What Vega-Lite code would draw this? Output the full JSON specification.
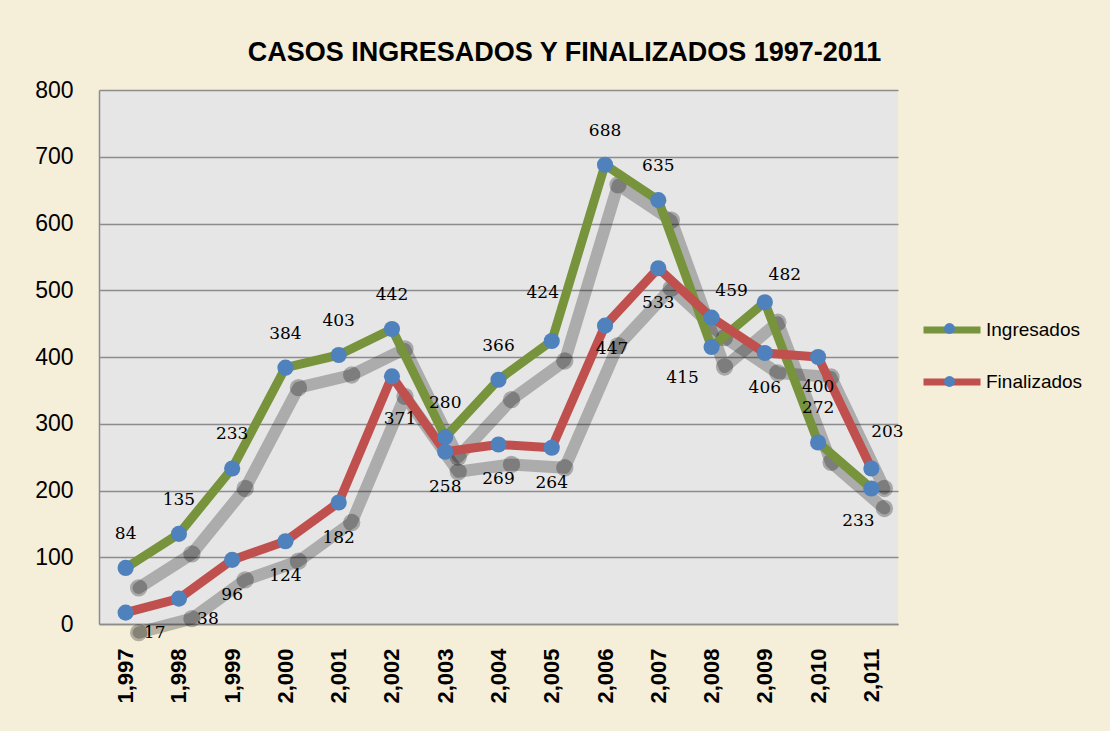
{
  "$schema": "https://vega.github.io/schema/vega-lite/v6.json",
  "width": 799,
  "height": 534,
  "autosize": {"type": "none"},
  "padding": {"left": 99, "top": 90, "right": 212, "bottom": 107},
  "background": "#f5eed8",
  "title": {
    "text": "CASOS INGRESADOS Y FINALIZADOS 1997-2011",
    "font": "Liberation Sans",
    "fontSize": 27,
    "fontWeight": "bold",
    "color": "#000000",
    "anchor": "middle",
    "frame": "group",
    "dx": 66,
    "offset": 12
  },
  "config": {
    "view": {"fill": "#e6e6e6", "stroke": null},
    "axis": {"labelFont": "Liberation Sans", "labelColor": "#000000", "ticks": false, "tickSize": 0, "domainColor": "#8c8c8c", "domainWidth": 1.5, "title": null}
  },
  "data": {
    "values": [
      {"year": 1997, "series": "Ingresados", "value": 84},
      {"year": 1998, "series": "Ingresados", "value": 135},
      {"year": 1999, "series": "Ingresados", "value": 233},
      {"year": 2000, "series": "Ingresados", "value": 384},
      {"year": 2001, "series": "Ingresados", "value": 403},
      {"year": 2002, "series": "Ingresados", "value": 442},
      {"year": 2003, "series": "Ingresados", "value": 280},
      {"year": 2004, "series": "Ingresados", "value": 366},
      {"year": 2005, "series": "Ingresados", "value": 424},
      {"year": 2006, "series": "Ingresados", "value": 688},
      {"year": 2007, "series": "Ingresados", "value": 635},
      {"year": 2008, "series": "Ingresados", "value": 415},
      {"year": 2009, "series": "Ingresados", "value": 482},
      {"year": 2010, "series": "Ingresados", "value": 272},
      {"year": 2011, "series": "Ingresados", "value": 203},
      {"year": 1997, "series": "Finalizados", "value": 17},
      {"year": 1998, "series": "Finalizados", "value": 38},
      {"year": 1999, "series": "Finalizados", "value": 96},
      {"year": 2000, "series": "Finalizados", "value": 124},
      {"year": 2001, "series": "Finalizados", "value": 182},
      {"year": 2002, "series": "Finalizados", "value": 371},
      {"year": 2003, "series": "Finalizados", "value": 258},
      {"year": 2004, "series": "Finalizados", "value": 269},
      {"year": 2005, "series": "Finalizados", "value": 264},
      {"year": 2006, "series": "Finalizados", "value": 447},
      {"year": 2007, "series": "Finalizados", "value": 533},
      {"year": 2008, "series": "Finalizados", "value": 459},
      {"year": 2009, "series": "Finalizados", "value": 406},
      {"year": 2010, "series": "Finalizados", "value": 400},
      {"year": 2011, "series": "Finalizados", "value": 233}
    ]
  },
  "encoding": {
    "x": {
      "field": "year", "type": "quantitative",
      "scale": {"domain": [1996.5, 2011.5], "nice": false, "zero": false},
      "axis": {"values": [1997,1998,1999,2000,2001,2002,2003,2004,2005,2006,2007,2008,2009,2010,2011], "format": ",", "labelAngle": -90, "grid": false, "labelFontSize": 22, "labelFontWeight": "bold", "labelPadding": 24}
    },
    "y": {
      "field": "value", "type": "quantitative",
      "scale": {"domain": [0, 800], "nice": false},
      "axis": {"values": [0,100,200,300,400,500,600,700,800], "grid": true, "gridColor": "#8c8c8c", "gridWidth": 1.5, "labelFontSize": 23, "labelPadding": 26}
    }
  },
  "layer": [
    {
      "mark": {"type": "line", "stroke": "#000000", "opacity": 0.25, "strokeWidth": 12, "xOffset": 13, "yOffset": 20, "strokeCap": "round", "strokeJoin": "round"},
      "encoding": {"detail": {"field": "series"}}
    },
    {
      "mark": {"type": "circle", "fill": "#000000", "opacity": 0.27, "size": 300, "xOffset": 13, "yOffset": 20}
    },
    {
      "mark": {"type": "line", "strokeWidth": 9, "strokeJoin": "round"},
      "encoding": {
        "stroke": {
          "field": "series", "type": "nominal",
          "scale": {"domain": ["Ingresados", "Finalizados"], "range": ["#77933c", "#c0504d"]},
          "legend": {"orient": "none", "legendX": 821, "legendY": 208, "title": null, "symbolType": "stroke", "symbolSize": 3249, "symbolStrokeWidth": 7, "labelFont": "Liberation Sans", "labelFontSize": 19, "labelColor": "#000000", "rowPadding": 6, "padding": 0, "labelOffset": 2}
        }
      }
    },
    {
      "mark": {"type": "circle", "size": 260, "opacity": 1},
      "encoding": {
        "fill": {
          "field": "series", "type": "nominal",
          "scale": {"domain": ["Finalizados", "Ingresados"], "range": ["#4f81bd", "#4f81bd"]},
          "legend": {"orient": "none", "legendX": 845, "legendY": 233, "title": null, "symbolType": "circle", "symbolSize": 120, "symbolStrokeWidth": 0, "labelExpr": "''", "labelFontSize": 1, "labelOffset": 0, "rowPadding": 42, "padding": 0}
        }
      }
    },
    {
      "transform": [{"filter": "datum.series == 'Ingresados' && indexof([2005, 2008, 2009, 2011], datum.year) < 0"}],
      "mark": {"type": "text", "font": "DejaVu Serif", "fontSize": 17, "color": "#000000", "dy": -34},
      "encoding": {"text": {"field": "value", "type": "quantitative"}}
    },
    {
      "transform": [{"filter": "datum.series == 'Finalizados' && indexof([1999, 2000, 2001, 2003, 2004, 2005, 2007, 2009], datum.year) >= 0"}],
      "mark": {"type": "text", "font": "DejaVu Serif", "fontSize": 17, "color": "#000000", "dy": 35},
      "encoding": {"text": {"field": "value", "type": "quantitative"}}
    },
    {
      "transform": [{"filter": "datum.series == 'Finalizados' && datum.year == 2010"}],
      "mark": {"type": "text", "font": "DejaVu Serif", "fontSize": 17, "color": "#000000", "dy": 30},
      "encoding": {"text": {"field": "value", "type": "quantitative"}}
    },
    {
      "transform": [{"filter": "datum.series == 'Finalizados' && indexof([1997, 1998], datum.year) >= 0"}],
      "mark": {"type": "text", "font": "DejaVu Serif", "fontSize": 17, "color": "#000000", "dx": 29, "dy": 20},
      "encoding": {"text": {"field": "value", "type": "quantitative"}}
    },
    {
      "transform": [{"filter": "datum.series == 'Finalizados' && datum.year == 2002"}],
      "mark": {"type": "text", "font": "DejaVu Serif", "fontSize": 17, "color": "#000000", "dx": 8, "dy": 43},
      "encoding": {"text": {"field": "value", "type": "quantitative"}}
    },
    {
      "transform": [{"filter": "datum.series == 'Finalizados' && datum.year == 2006"}],
      "mark": {"type": "text", "font": "DejaVu Serif", "fontSize": 17, "color": "#000000", "dx": 7, "dy": 23},
      "encoding": {"text": {"field": "value", "type": "quantitative"}}
    },
    {
      "transform": [{"filter": "(datum.series == 'Finalizados' && datum.year == 2008) || (datum.series == 'Ingresados' && datum.year == 2009)"}],
      "mark": {"type": "text", "font": "DejaVu Serif", "fontSize": 17, "color": "#000000", "dx": 20, "dy": -27},
      "encoding": {"text": {"field": "value", "type": "quantitative"}}
    },
    {
      "transform": [{"filter": "datum.series == 'Ingresados' && datum.year == 2005"}],
      "mark": {"type": "text", "font": "DejaVu Serif", "fontSize": 17, "color": "#000000", "dx": -9, "dy": -48},
      "encoding": {"text": {"field": "value", "type": "quantitative"}}
    },
    {
      "transform": [{"filter": "datum.series == 'Ingresados' && datum.year == 2008"}],
      "mark": {"type": "text", "font": "DejaVu Serif", "fontSize": 17, "color": "#000000", "dx": -29, "dy": 31},
      "encoding": {"text": {"field": "value", "type": "quantitative"}}
    },
    {
      "transform": [{"filter": "datum.series == 'Ingresados' && datum.year == 2011"}],
      "mark": {"type": "text", "font": "DejaVu Serif", "fontSize": 17, "color": "#000000", "dx": 16, "dy": -56},
      "encoding": {"text": {"field": "value", "type": "quantitative"}}
    },
    {
      "transform": [{"filter": "datum.series == 'Finalizados' && datum.year == 2011"}],
      "mark": {"type": "text", "font": "DejaVu Serif", "fontSize": 17, "color": "#000000", "dx": -13, "dy": 53},
      "encoding": {"text": {"field": "value", "type": "quantitative"}}
    }
  ]
}
